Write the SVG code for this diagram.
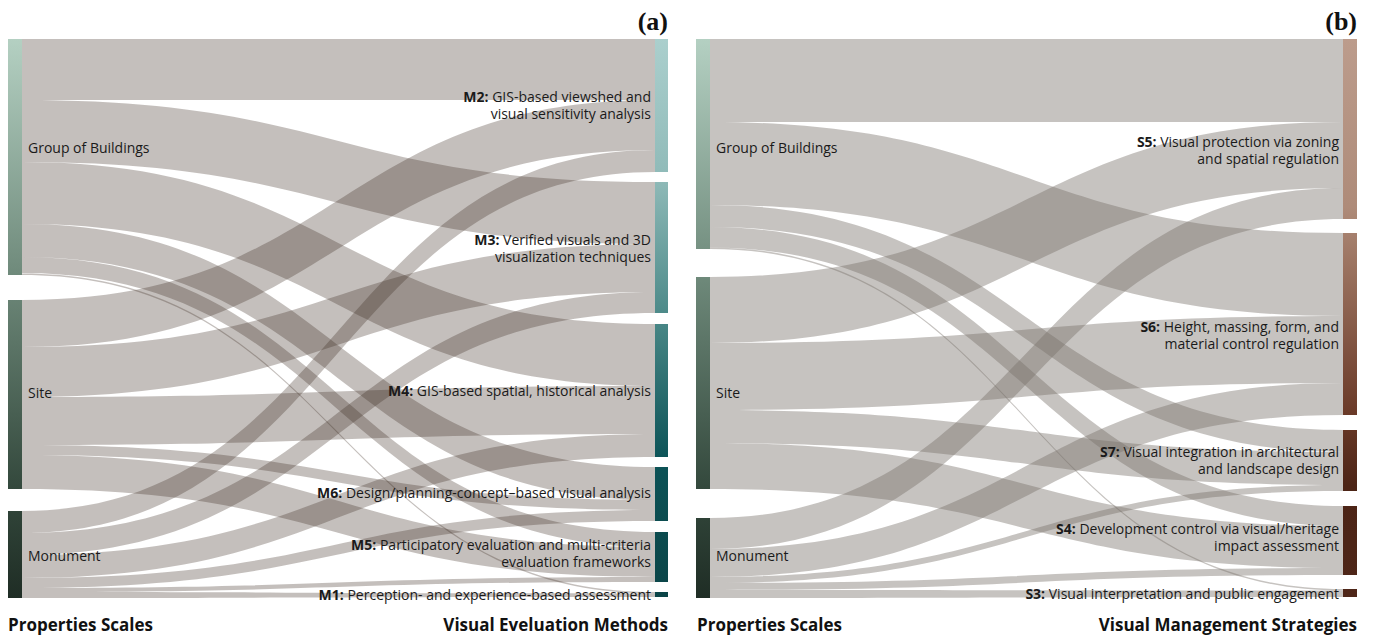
<svg xmlns="http://www.w3.org/2000/svg" width="1376" height="636" viewBox="0 0 1376 636">
<defs>
<linearGradient id="gl" gradientUnits="userSpaceOnUse" x1="0" y1="39" x2="0" y2="598">
<stop offset="0" stop-color="#b4d0c2"/><stop offset="0.42" stop-color="#6f8a7b"/><stop offset="0.8" stop-color="#34493d"/><stop offset="1" stop-color="#1f2d25"/>
</linearGradient>
<linearGradient id="gra" gradientUnits="userSpaceOnUse" x1="0" y1="39" x2="0" y2="598">
<stop offset="0" stop-color="#abcfcd"/><stop offset="0.25" stop-color="#8fbab8"/><stop offset="0.5" stop-color="#4a8887"/><stop offset="0.75" stop-color="#0c5357"/><stop offset="1" stop-color="#0b4447"/>
</linearGradient>
<linearGradient id="grb" gradientUnits="userSpaceOnUse" x1="0" y1="39" x2="0" y2="598">
<stop offset="0" stop-color="#bc9c8c"/><stop offset="0.3" stop-color="#ae8b79"/><stop offset="0.4" stop-color="#9c7461"/><stop offset="0.67" stop-color="#6a3a28"/><stop offset="0.8" stop-color="#4c2416"/><stop offset="1" stop-color="#4e2618"/>
</linearGradient>
</defs>
<style>
.la{fill:rgb(58,42,32);fill-opacity:0.3}
.lb{fill:rgb(120,112,106);fill-opacity:0.42}
.t{font-family:"Open Sans","Noto Sans",sans-serif;font-size:14px;fill:#1a1a1a}
.r{text-anchor:end}
.b{font-weight:700}
.h{font-family:"Open Sans","Noto Sans",sans-serif;font-size:17px;font-weight:700;fill:#111}
.p{font-family:"Liberation Serif",serif;font-size:26px;font-weight:700;fill:#111;text-anchor:end}
</style>
<rect width="1376" height="636" fill="#fff"/>
<g id="links">
<g id="links-a">
<path class="la" d="M22,39C338.5,39 338.5,39 655,39L655,100C338.5,100 338.5,100 22,100Z"/>
<path class="la" d="M22,100C338.5,100 338.5,182 655,182L655,244C338.5,244 338.5,162 22,162Z"/>
<path class="la" d="M22,162C338.5,162 338.5,324 655,324L655,386C338.5,386 338.5,224 22,224Z"/>
<path class="la" d="M22,224C338.5,224 338.5,467 655,467L655,500C338.5,500 338.5,257 22,257Z"/>
<path class="la" d="M22,257C338.5,257 338.5,532 655,532L655,547C338.5,547 338.5,273 22,273Z"/>
<path class="la" d="M22,273.5C338.5,273.5 338.5,592 655,592L655,593.5C338.5,593.5 338.5,275 22,275Z"/>
<path class="la" d="M22,300C338.5,300 338.5,100 655,100L655,150C338.5,150 338.5,347 22,347Z"/>
<path class="la" d="M22,347C338.5,347 338.5,244 655,244L655,292C338.5,292 338.5,397 22,397Z"/>
<path class="la" d="M22,397C338.5,397 338.5,386 655,386L655,434C338.5,434 338.5,445 22,445Z"/>
<path class="la" d="M22,445C338.5,445 338.5,500 655,500L655,510C338.5,510 338.5,455 22,455Z"/>
<path class="la" d="M22,455C338.5,455 338.5,547 655,547L655,577C338.5,577 338.5,489 22,489Z"/>
<path class="la" d="M22,511C338.5,511 338.5,150 655,150L655,172C338.5,172 338.5,533 22,533Z"/>
<path class="la" d="M22,533C338.5,533 338.5,292 655,292L655,313C338.5,313 338.5,555 22,555Z"/>
<path class="la" d="M22,555C338.5,555 338.5,434 655,434L655,457C338.5,457 338.5,578 22,578Z"/>
<path class="la" d="M22,578C338.5,578 338.5,510 655,510L655,521C338.5,521 338.5,588 22,588Z"/>
<path class="la" d="M22,588C338.5,588 338.5,577 655,577L655,582C338.5,582 338.5,592 22,592Z"/>
<path class="la" d="M22,592C338.5,592 338.5,593.5 655,593.5L655,597C338.5,597 338.5,598 22,598Z"/>
</g>
<g id="links-b">
<path class="lb" d="M710,39C1026.5,39 1026.5,39 1343,39L1343,122C1026.5,122 1026.5,122 710,122Z"/>
<path class="lb" d="M710,122C1026.5,122 1026.5,233 1343,233L1343,316C1026.5,316 1026.5,205 710,205Z"/>
<path class="lb" d="M710,205C1026.5,205 1026.5,430 1343,430L1343,452C1026.5,452 1026.5,227 710,227Z"/>
<path class="lb" d="M710,227C1026.5,227 1026.5,506 1343,506L1343,526C1026.5,526 1026.5,247.5 710,247.5Z"/>
<path class="lb" d="M710,247.5C1026.5,247.5 1026.5,589 1343,589L1343,590.5C1026.5,590.5 1026.5,249 710,249Z"/>
<path class="lb" d="M710,277C1026.5,277 1026.5,122 1343,122L1343,188C1026.5,188 1026.5,343 710,343Z"/>
<path class="lb" d="M710,343C1026.5,343 1026.5,316 1343,316L1343,383C1026.5,383 1026.5,410 710,410Z"/>
<path class="lb" d="M710,410C1026.5,410 1026.5,452 1343,452L1343,485C1026.5,485 1026.5,443 710,443Z"/>
<path class="lb" d="M710,443C1026.5,443 1026.5,526 1343,526L1343,568C1026.5,568 1026.5,489 710,489Z"/>
<path class="lb" d="M710,518C1026.5,518 1026.5,188 1343,188L1343,219C1026.5,219 1026.5,549 710,549Z"/>
<path class="lb" d="M710,549C1026.5,549 1026.5,383 1343,383L1343,415C1026.5,415 1026.5,577 710,577Z"/>
<path class="lb" d="M710,577C1026.5,577 1026.5,485 1343,485L1343,491C1026.5,491 1026.5,583 710,583Z"/>
<path class="lb" d="M710,583C1026.5,583 1026.5,568 1343,568L1343,575C1026.5,575 1026.5,590 710,590Z"/>
<path class="lb" d="M710,590C1026.5,590 1026.5,590.5 1343,590.5L1343,597C1026.5,597 1026.5,598 710,598Z"/>
</g>
</g>
<g id="panel-a-labels">
<text class="p" x="668" y="30">(a)</text>
<text class="h" x="8" y="631">Properties Scales</text>
<text class="h" x="668" y="631" text-anchor="end">Visual Eveluation Methods</text>
</g>
<g id="a-gob"><rect x="8" y="39" width="14" height="236" fill="url(#gl)"/><text class="t" x="28" y="153">Group of Buildings</text></g>
<g id="a-site"><rect x="8" y="300" width="14" height="189" fill="url(#gl)"/><text class="t" x="28" y="398">Site</text></g>
<g id="a-monument"><rect x="8" y="511" width="14" height="87" fill="url(#gl)"/><text class="t" x="28" y="561">Monument</text></g>
<g id="a-m2"><rect x="655" y="39" width="13" height="133" fill="url(#gra)"/><text class="t r" x="651" y="102"><tspan class="b">M2:</tspan> GIS-based viewshed and</text><text class="t r" x="651" y="119">visual sensitivity analysis</text></g>
<g id="a-m3"><rect x="655" y="182" width="13" height="131" fill="url(#gra)"/><text class="t r" x="651" y="245"><tspan class="b">M3:</tspan> Verified visuals and 3D</text><text class="t r" x="651" y="262">visualization techniques</text></g>
<g id="a-m4"><rect x="655" y="324" width="13" height="133" fill="url(#gra)"/><text class="t r" x="651" y="396"><tspan class="b">M4:</tspan> GIS-based spatial, historical analysis</text></g>
<g id="a-m6"><rect x="655" y="467" width="13" height="54" fill="url(#gra)"/><text class="t r" x="651" y="498"><tspan class="b">M6:</tspan> Design/planning-concept–based visual analysis</text></g>
<g id="a-m5"><rect x="655" y="532" width="13" height="50" fill="url(#gra)"/><text class="t r" x="651" y="550"><tspan class="b">M5:</tspan> Participatory evaluation and multi-criteria</text><text class="t r" x="651" y="567">evaluation frameworks</text></g>
<g id="a-m1"><rect x="655" y="592" width="13" height="5" fill="url(#gra)"/><text class="t r" x="651" y="600"><tspan class="b">M1:</tspan> Perception- and experience-based assessment</text></g>
<g id="panel-b-labels">
<text class="p" x="1357" y="30">(b)</text>
<text class="h" x="697" y="631">Properties Scales</text>
<text class="h" x="1357" y="631" text-anchor="end">Visual Management Strategies</text>
</g>
<g id="b-gob"><rect x="696" y="39" width="14" height="210" fill="url(#gl)"/><text class="t" x="716" y="153">Group of Buildings</text></g>
<g id="b-site"><rect x="696" y="277" width="14" height="212" fill="url(#gl)"/><text class="t" x="716" y="398">Site</text></g>
<g id="b-monument"><rect x="696" y="518" width="14" height="80" fill="url(#gl)"/><text class="t" x="716" y="561">Monument</text></g>
<g id="b-s5"><rect x="1343" y="39" width="14" height="180" fill="url(#grb)"/><text class="t r" x="1339" y="147"><tspan class="b">S5:</tspan> Visual protection via zoning</text><text class="t r" x="1339" y="164">and spatial regulation</text></g>
<g id="b-s6"><rect x="1343" y="233" width="14" height="182" fill="url(#grb)"/><text class="t r" x="1339" y="332"><tspan class="b">S6:</tspan> Height, massing, form, and</text><text class="t r" x="1339" y="349">material control regulation</text></g>
<g id="b-s7"><rect x="1343" y="430" width="14" height="61" fill="url(#grb)"/><text class="t r" x="1339" y="457"><tspan class="b">S7:</tspan>  Visual integration in architectural</text><text class="t r" x="1339" y="474">and landscape design</text></g>
<g id="b-s4"><rect x="1343" y="506" width="14" height="69" fill="url(#grb)"/><text class="t r" x="1339" y="534"><tspan class="b">S4:</tspan>  Development control via visual/heritage</text><text class="t r" x="1339" y="551">impact assessment</text></g>
<g id="b-s3"><rect x="1343" y="589" width="14" height="8" fill="url(#grb)"/><text class="t r" x="1339" y="599"><tspan class="b">S3:</tspan>  Visual interpretation and public engagement</text></g>
</svg>
